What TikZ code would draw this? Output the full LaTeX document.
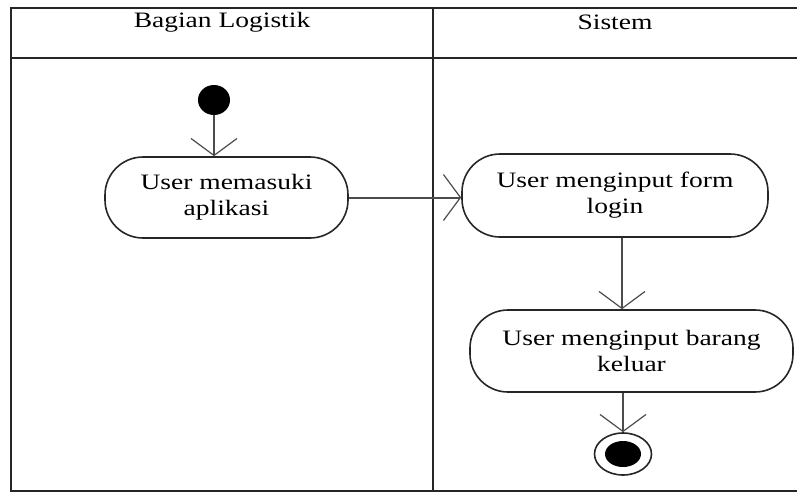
\documentclass[tikz,border=0pt]{standalone}
\usepackage{fontspec}
\setmainfont{Liberation Serif}[FakeStretch=1.25]
\usetikzlibrary{arrows.meta,shapes.geometric}
\begin{document}
\begin{tikzpicture}[x=1pt,y=-1pt,
  frame/.style={line width=2.2pt, draw=black!85},
  lbl/.style={font=\fontsize{22}{26}\selectfont, inner sep=0pt},
  act/.style={draw=black!85, line width=1.6pt, rounded corners=38pt, align=center,
    font=\fontsize{22}{26}\selectfont, inner sep=0pt},
  flow/.style={draw=black!70, line width=2pt,
    -{Straight Barb[length=17pt,width=46pt,line width=1.2pt]}},
  startnode/.style={ellipse, fill=black, minimum width=32pt, minimum height=30pt, inner sep=0pt},
]
\useasboundingbox (0,0) rectangle (797,493);
% swimlane frame
\draw[frame] (797,8) -- (11,8) -- (11,491) -- (797,491);
\draw[frame] (11,58) -- (797,58);
\draw[frame] (433,8) -- (433,491);
\node[lbl] (h1) at (222,22) {Bagian Logistik};
\node[lbl] (h2) at (615,22) {Sistem};
% nodes
\node[startnode] (s) at (214,100) {};
\node[act, minimum width=243pt, minimum height=81pt] (a1) at (226.5,197.5) {User memasuki\\aplikasi};
\node[act, minimum width=306pt, minimum height=83pt] (a2) at (615,195.5) {User menginput form\\login};
\node[act, minimum width=323pt, minimum height=82pt] (a3) at (631.5,351) {User menginput barang\\keluar};
\node[ellipse, draw=black!85, line width=1.6pt, minimum width=57pt, minimum height=42pt, inner sep=0pt] (e) at (623,454) {};
\node[ellipse, fill=black, minimum width=36pt, minimum height=26pt, inner sep=0pt] (ei) at (e.center) {};
% flows
\draw[flow] (s) -- (s |- a1.north);
\draw[flow] (a1.east) -- (a1.east -| a2.west);
\draw[flow] ([xshift=7pt]a2.south) -- ([xshift=7pt]a2.south |- a3.north);
\draw[flow] (a3.south -| e) -- (e.north);
\end{tikzpicture}
\end{document}
